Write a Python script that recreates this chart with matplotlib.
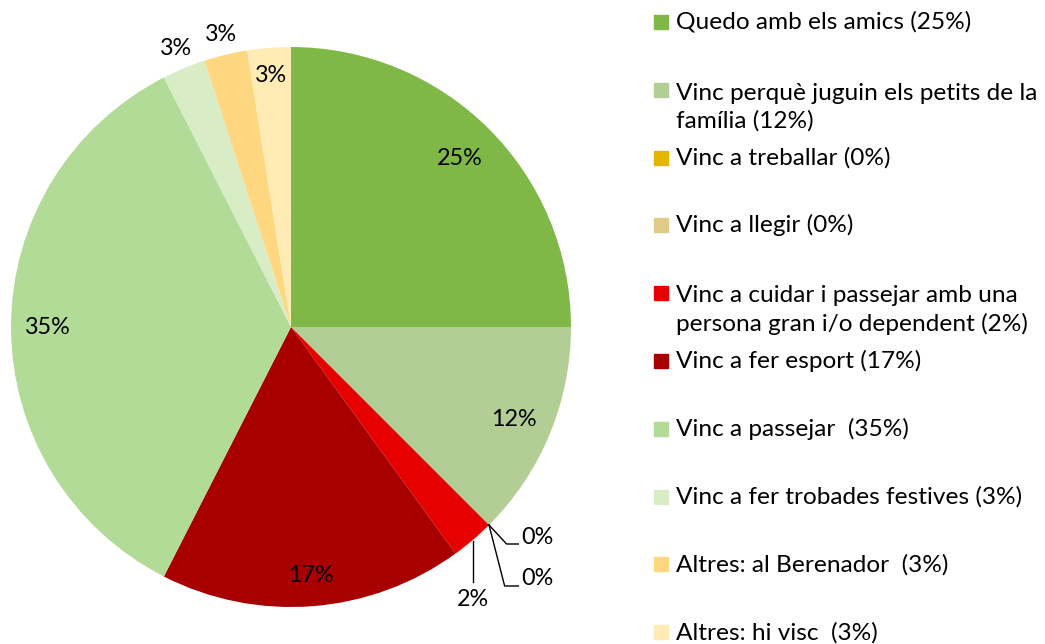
import matplotlib

matplotlib.use("Agg")
import matplotlib.pyplot as plt
import numpy as np
from matplotlib.patches import Rectangle

# answers out of 40 respondents
categories = [
    "Quedo amb els amics (25%)",
    "Vinc perquè juguin els petits de la\nfamília (12%)",
    "Vinc a treballar (0%)",
    "Vinc a llegir (0%)",
    "Vinc a cuidar i passejar amb una\npersona gran i/o dependent (2%)",
    "Vinc a fer esport (17%)",
    "Vinc a passejar  (35%)",
    "Vinc a fer trobades festives (3%)",
    "Altres: al Berenador  (3%)",
    "Altres: hi visc  (3%)",
]
shares = [25.0, 12.5, 0.0, 0.0, 2.5, 17.5, 35.0, 2.5, 2.5, 2.5]
pct_labels = ["25%", "12%", "0%", "0%", "2%", "17%", "35%", "3%", "3%", "3%"]
colors = ["#80B847", "#B2CE94", "#E3B400", "#E0CB86", "#E60000",
          "#A80000", "#B2DB98", "#D8EDC6", "#FFD780", "#FFECB4"]

W, H = 1045, 644
FONT = ["Lato", "DejaVu Sans"]
LBL_SIZE = 16.8

fig = plt.figure(figsize=(W / 100, H / 100), dpi=100)
cx, cy, r = 291, 327, 280
ax = fig.add_axes([(cx - r) / W, (H - cy - r) / H, 2 * r / W, 2 * r / H])
ax.pie(shares, colors=colors, startangle=90, counterclock=False, radius=1.0,
       wedgeprops=dict(linewidth=0))
ax.set_xlim(-1, 1)
ax.set_ylim(-1, 1)
ax.axis("off")

# mid angles of each wedge (degrees, clockwise from top)
bounds = 90 - 360 * np.concatenate([[0], np.cumsum(shares)]) / sum(shares)
mids = np.deg2rad((bounds[:-1] + bounds[1:]) / 2)

label_r = {0: 0.85, 1: 0.86, 5: 0.89, 6: 0.87, 7: 1.075, 8: 1.075, 9: 0.9}
for i, rr in label_r.items():
    ax.text(rr * np.cos(mids[i]), rr * np.sin(mids[i]), pct_labels[i],
            ha="center", va="center", fontsize=LBL_SIZE, family=FONT,
            color="black", clip_on=False)

# leader lines for the tiny slices
ex, ey = np.cos(mids[2]), np.sin(mids[2])
for i, (yl, ty) in zip([2, 3], [(-0.775, -0.752), (-0.925, -0.898)]):
    ax.plot([ex, 0.77 - (0.007 if i == 3 else 0), 0.812], [ey, yl, yl],
            color="black", lw=1.0, clip_on=False)
    ax.text(0.822, ty, pct_labels[i], ha="left", va="center",
            fontsize=LBL_SIZE, family=FONT, clip_on=False)
sx, sy = np.cos(mids[4]), np.sin(mids[4])
ax.plot([sx, sx], [sy - 0.005, -0.91], color="black", lw=1.0, clip_on=False)
ax.text(sx, -0.975, pct_labels[4], ha="center", va="center",
        fontsize=LBL_SIZE, family=FONT, clip_on=False)

# legend with fixed slots, first line aligned with the swatch
slot0, slot, line_h = 22, 67.8, 31
for i, (lab, col) in enumerate(zip(categories, colors)):
    yc = slot0 + i * slot
    fig.patches.append(Rectangle((654 / W, 1 - (yc + 7) / H), 14 / W, 14 / H,
                                 transform=fig.transFigure, color=col,
                                 figure=fig))
    extra = lab.count("\n") * line_h
    fig.text(676 / W, 1 - (yc + 7 + extra) / H, lab, ha="left", va="baseline",
             fontsize=17.6, family=FONT, linespacing=1.37)

fig.savefig("out.png", dpi=100)
